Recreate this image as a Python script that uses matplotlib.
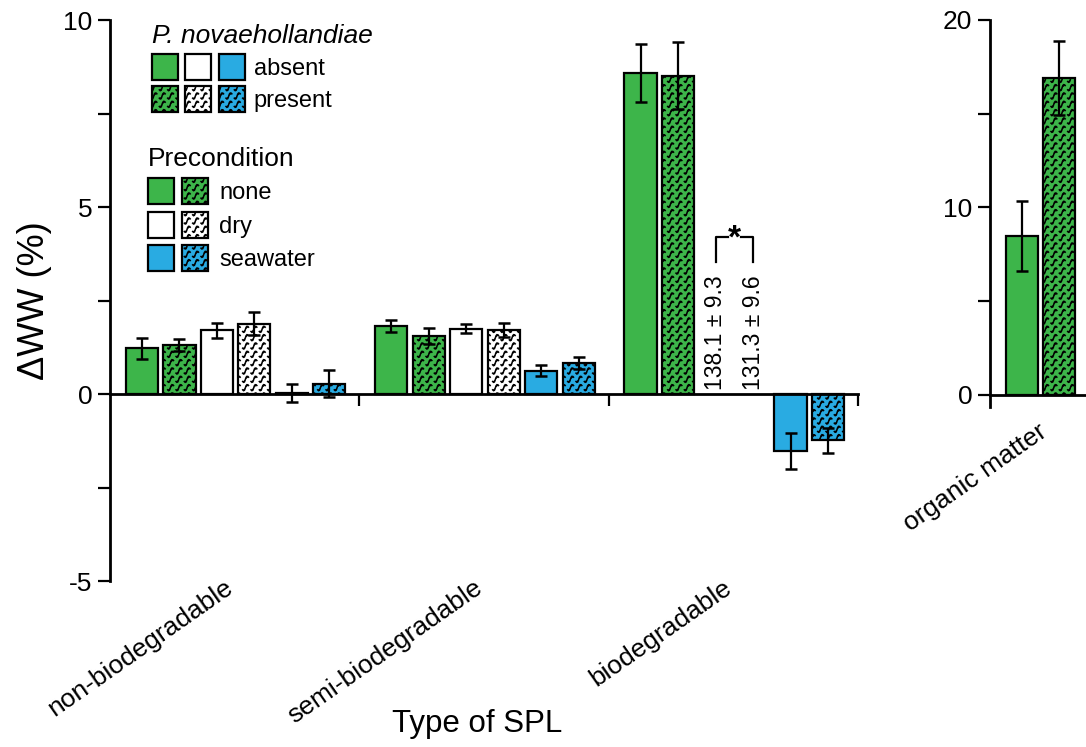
import warnings
import numpy as np
import matplotlib
matplotlib.use('Agg')  # no display
import matplotlib.pyplot as plt
import matplotlib.hatch as mhatch
from matplotlib.path import Path
from matplotlib.patches import Patch
from matplotlib.legend_handler import HandlerTuple

warnings.filterwarnings('ignore')
plt.rcParams['font.family'] = ['Liberation Sans', 'DejaVu Sans']
plt.rcParams['axes.unicode_minus'] = False
plt.rcParams['hatch.linewidth'] = 1.1

# ---- data (change in wet weight, %) ----
groups = ['non-biodegradable', 'semi-biodegradable', 'biodegradable']
none_absent = [1.22, 1.82, 8.59]
none_absent_err = [0.28, 0.17, 0.78]
none_present = [1.32, 1.56, 8.51]
none_present_err = [0.16, 0.21, 0.90]
dry_absent = [1.70, 1.74, 138.1]
dry_absent_err = [0.21, 0.12, 9.3]
dry_present = [1.88, 1.71, 131.3]
dry_present_err = [0.31, 0.19, 9.6]
sea_absent = [0.03, 0.62, -1.52]
sea_absent_err = [0.25, 0.15, 0.49]
sea_present = [0.28, 0.83, -1.24]
sea_present_err = [0.36, 0.17, 0.33]

om_label = 'organic matter'
om_vals = [8.48, 16.9]
om_err = [1.87, 1.97]

GREEN = '#3db54a'
BLUE = '#29abe2'
colors = {'none': GREEN, 'dry': 'white', 'seawater': BLUE}
hatches = {'absent': None, 'present': '~~'}


# small squiggle hatch for the "present" bars
class SquiggleHatch(mhatch.HatchPatternBase):
    shape = np.array([[0.12, 0.22], [0.22, 0.12], [0.33, 0.16], [0.40, 0.32],
                      [0.46, 0.52], [0.53, 0.72], [0.63, 0.84], [0.75, 0.82],
                      [0.82, 0.74]])

    def __init__(self, hatch, density):
        self.num_rows = hatch.count('~') * int(density)
        self.num_vertices = self.num_rows ** 2 * len(self.shape)

    def set_vertices_and_codes(self, vertices, codes):
        step = 1.0 / self.num_rows
        n = len(self.shape)
        k = 0
        for r in range(self.num_rows):
            for c in range(self.num_rows):
                vertices[k:k + n] = (self.shape + [c, r]) * step
                codes[k] = Path.MOVETO
                codes[k + 1:k + n] = Path.LINETO
                k += n


mhatch._hatch_types.append(SquiggleHatch)

series = [
    ('none', 'absent', none_absent, none_absent_err),
    ('none', 'present', none_present, none_present_err),
    ('dry', 'absent', dry_absent, dry_absent_err),
    ('dry', 'present', dry_present, dry_present_err),
    ('seawater', 'absent', sea_absent, sea_absent_err),
    ('seawater', 'present', sea_present, sea_present_err),
]

GW = 6.65      # width of one group in bar slots
OFF = 0.85
BW = 0.86
YTOP = 10
LW = 1.6

fig = plt.figure(figsize=(10.86, 7.47), dpi=100)
ax = fig.add_axes([0.1013, 0.2222, 0.6888, 0.7510])
ax2 = fig.add_axes([0.9116, 0.4552, 0.0884, 0.5181])

err_kw = dict(fmt='none', ecolor='k', elinewidth=1.6, capsize=4, capthick=1.8, zorder=3)

xs = {}
for i, (pre, pn, vals, errs) in enumerate(series):
    x = np.arange(len(groups)) * GW + OFF + i
    xs[(pre, pn)] = x
    vals = np.array(vals, dtype=float)
    errs = np.array(errs, dtype=float)
    shown = np.where(vals > YTOP, np.nan, vals)
    ax.bar(x, shown, width=BW, color=colors[pre], edgecolor='k', linewidth=LW,
           hatch=hatches[pn], zorder=2)
    ax.errorbar(x, shown, yerr=errs, **err_kw)
    # off-scale values are written as text instead
    for xi, v, e in zip(x, vals, errs):
        if v > YTOP:
            ax.annotate(f'{v:.1f} ± {e:.1f}', xy=(xi, 0), xytext=(0, 3),
                        textcoords='offset points', rotation=90, ha='center',
                        va='bottom', fontsize=16.5)

# significance bracket between the two off-scale bars
x1 = xs[('dry', 'absent')][2]
x2 = xs[('dry', 'present')][2]
ax.plot([x1, x1, x1 + 0.32], [3.52, 4.21, 4.21], color='k', lw=LW)
ax.plot([x2 - 0.32, x2, x2], [4.21, 4.21, 3.52], color='k', lw=LW)
ax.text((x1 + x2) / 2, 4.15, '*', ha='center', va='center', fontsize=24, fontweight='bold')

ax.set_xlim(0, 3 * GW)
ax.set_ylim(-5, YTOP)
ax.spines['top'].set_visible(False)
ax.spines['right'].set_visible(False)
ax.spines['bottom'].set_position(('data', 0))
for sp in ax.spines.values():
    sp.set_linewidth(2)
ax.set_xticks(np.arange(1, 4) * GW)
ax.set_xticklabels([])
ax.set_yticks([-5, 0, 5, 10])
ax.set_yticks([-2.5, 2.5, 7.5], minor=True)
ax.tick_params(axis='both', which='both', direction='out', length=8.6, width=LW,
               labelsize=19, pad=4)
ax.set_ylabel('ΔWW (%)', fontsize=26, labelpad=8)

for g, name in enumerate(groups):
    cx = g * GW + GW / 2
    ax.annotate(name, xy=(cx, 0), xycoords=('data', 'axes fraction'), xytext=(2, 4),
                textcoords='offset points', rotation=35, ha='right', va='top', fontsize=19)

fig.text(0.439, 0.0201, 'Type of SPL', ha='center', va='baseline', fontsize=22.5)

# organic matter panel
xo = np.arange(len(om_vals)) + OFF
ax2.bar(xo, om_vals, width=BW, color=GREEN, edgecolor='k', linewidth=LW,
        hatch=[None, '~~'], zorder=2)
ax2.errorbar(xo, om_vals, yerr=om_err, **err_kw)
ax2.set_xlim(0, 2.56)
ax2.set_ylim(-0.64, 20)
ax2.spines['top'].set_visible(False)
ax2.spines['right'].set_visible(False)
ax2.spines['bottom'].set_position(('data', 0))
for sp in ax2.spines.values():
    sp.set_linewidth(2)
ax2.set_xticks([])
ax2.set_yticks([0, 10, 20])
ax2.set_yticks([5, 15], minor=True)
ax2.tick_params(axis='y', which='both', direction='out', length=8.6, width=LW,
                labelsize=19, pad=4)
ax2.annotate(om_label, xy=(xo.mean(), 0), xycoords=('data', 'axes fraction'),
             xytext=(8, -9), textcoords='offset points', rotation=35, ha='right',
             va='top', fontsize=19)

# legends
preconds = ['none', 'dry', 'seawater']


def box(face, hatch=None):
    return Patch(facecolor=face, edgecolor='k', linewidth=LW, hatch=hatch)


leg_kw = dict(loc='upper left', frameon=False, fontsize=17, handleheight=1.32,
              borderpad=0, borderaxespad=0, alignment='left')

h_abs = tuple(box(colors[p]) for p in preconds)
h_pres = tuple(box(colors[p], hatches['present']) for p in preconds)
leg1 = ax.legend([h_abs, h_pres], ['absent', 'present'],
                 handler_map={tuple: HandlerTuple(ndivide=None, pad=0.32)},
                 title='P. novaehollandiae',
                 title_fontproperties={'style': 'italic', 'size': 19},
                 bbox_to_anchor=(0.056, 0.993), handlelength=3.94, handletextpad=0.38,
                 labelspacing=0.25, **leg_kw)
ax.add_artist(leg1)

h_pre = [(box(colors[p]), box(colors[p], hatches['present'])) for p in preconds]
ax.legend(h_pre, preconds,
          handler_map={tuple: HandlerTuple(ndivide=None, pad=0.32)},
          title='Precondition', title_fontproperties={'size': 19},
          bbox_to_anchor=(0.0508, 0.7736), handlelength=2.54, handletextpad=0.47,
          labelspacing=0.31, **leg_kw)

fig.savefig('out.png', dpi=100)
